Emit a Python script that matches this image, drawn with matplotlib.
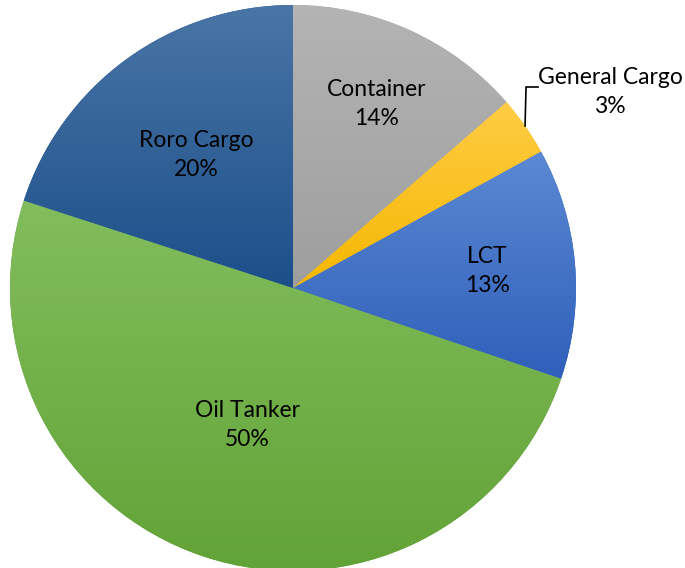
import numpy as np
import matplotlib
matplotlib.use('Agg')
import matplotlib.pyplot as plt

categories = ['Container', 'General Cargo', 'LCT', 'Oil Tanker', 'Roro Cargo']
values = [13.6, 3.4, 13.2, 49.8, 20.0]
top_colors = ['#b4b4b4', '#ffcc45', '#5b89d3', '#83bd5d', '#4a75a6']
bottom_colors = ['#9e9e9e', '#f5b700', '#2f5fba', '#62a337', '#1c4f8a']

label_frac = [0.715, None, 0.69, 0.51, 0.58]

plt.rcParams['font.family'] = ['Lato', 'DejaVu Sans']

W, H = 685, 568
fig = plt.figure(figsize=(W / 100, H / 100), dpi=100)
ax = fig.add_axes([0, 0, 1, 1])
cx, cy, R = 293, 280, 283
fs = 16.5
ls = 1.5

wedges, _ = ax.pie(values, startangle=90, counterclock=False, center=(cx, cy),
                   radius=R, colors=[c for c in bottom_colors], frame=True,
                   wedgeprops=dict(linewidth=0))
ax.set_xlim(0, W)
ax.set_ylim(0, H)
ax.set_aspect('auto')
ax.axis('off')

total = sum(values)
for i, w in enumerate(wedges):
    bb = w.get_path().get_extents()
    t = np.linspace(0, 1, 256)[:, None]
    c0 = np.array(matplotlib.colors.to_rgb(top_colors[i]))
    c1 = np.array(matplotlib.colors.to_rgb(bottom_colors[i]))
    grad = (1 - t)[..., None] * c0 + t[..., None] * c1
    grad = np.repeat(grad, 2, axis=1)
    im = ax.imshow(grad, extent=(bb.x0, bb.x1, bb.y0, bb.y1), origin='upper',
                   interpolation='bilinear', aspect='auto', zorder=1)
    im.set_clip_path(w)
    w.set_zorder(0)

    mid = np.deg2rad((w.theta1 + w.theta2) / 2)
    txt = f"{categories[i]}\n{round(values[i] / total * 100):.0f}%"
    if label_frac[i] is not None:
        f = label_frac[i]
        ax.text(cx + f * R * np.cos(mid), cy + f * R * np.sin(mid), txt,
                ha='center', va='center', fontsize=fs, color='black',
                linespacing=ls, zorder=3)
    else:
        ex, ey = cx + R * np.cos(mid), cy + R * np.sin(mid)
        ax.plot([ex, ex + 1, ex + 13], [ey, ey + 39, ey + 39], color='black',
                lw=1.2, zorder=3, solid_joinstyle='miter')
        ax.text(ex + 85, ey + 34, txt, ha='center', va='center', fontsize=fs,
                color='black', linespacing=ls, zorder=3)

ax.set_xlim(0, W)
ax.set_ylim(0, H)
fig.savefig('out.png', dpi=100)
